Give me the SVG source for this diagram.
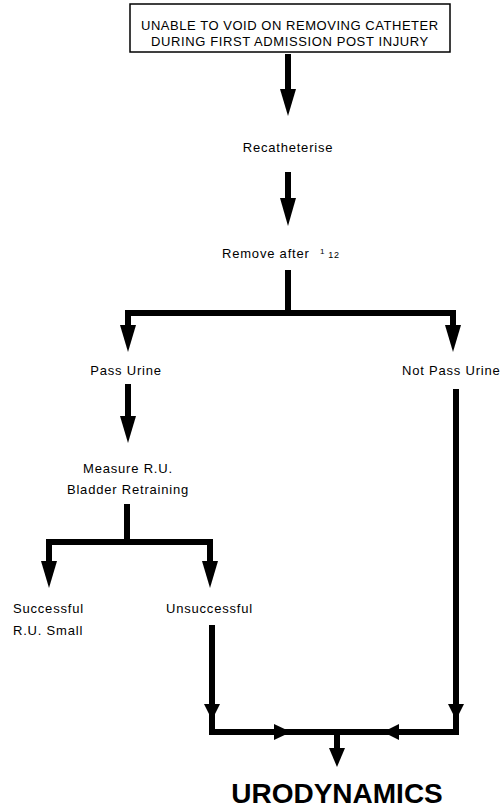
<svg xmlns="http://www.w3.org/2000/svg" width="504" height="809" viewBox="0 0 504 809">
<style>
.t{font-family:"Liberation Sans",Arial,sans-serif;font-size:13px;fill:#000;letter-spacing:0.8px}
.c{text-anchor:middle}
.ln{stroke:#000;stroke-width:6;fill:none;stroke-linecap:square}
.hd{fill:#000}
.big{font-family:"Liberation Sans",Arial,sans-serif;font-size:28px;font-weight:bold;fill:#000;text-anchor:middle}
</style>
<rect width="504" height="809" fill="#fff"/>
<g id="start">
<rect x="130" y="4" width="320" height="48" fill="none" stroke="#000" stroke-width="1.5"/>
<text class="t" x="141" y="30" textLength="298" lengthAdjust="spacing">UNABLE TO VOID ON REMOVING CATHETER</text>
<text class="t" x="151" y="46" textLength="278" lengthAdjust="spacing">DURING FIRST ADMISSION POST INJURY</text>
</g>
<g id="recath"><text class="t c" x="288" y="152">Recatheterise</text></g>
<g id="remove"><text class="t" x="222" y="258">Remove after <tspan font-size="8" dy="-4" dx="6">1</tspan><tspan font-size="9" dy="4" dx="3">12</tspan></text></g>
<g id="pass"><text class="t c" x="126" y="375">Pass Urine</text></g>
<g id="notpass"><text class="t" x="402" y="375">Not Pass Urine</text></g>
<g id="measure"><text class="t c" x="128" y="473">Measure R.U.</text><text class="t c" x="128" y="494">Bladder Retraining</text></g>
<g id="success"><text class="t" x="13" y="613">Successful</text><text class="t" x="13" y="635">R.U. Small</text></g>
<g id="unsuccess"><text class="t" x="166" y="613">Unsuccessful</text></g>
<g id="uro"><text class="big" x="337" y="803">URODYNAMICS</text></g>
<g id="connectors">
<path class="ln" d="M288 57V92"/><polygon class="hd" points="280,89 296,89 288,116"/>
<path class="ln" d="M288 175V200"/><polygon class="hd" points="280,198 296,198 288,226"/>
<path class="ln" d="M288 273V313M128 313H453M128 313V328M453 313V328"/>
<polygon class="hd" points="120,325 136,325 128,352"/>
<polygon class="hd" points="445,325 461,325 453,352"/>
<path class="ln" d="M128 387V420"/><polygon class="hd" points="120,416 136,416 128,443"/>
<path class="ln" d="M127 507V542M49 542H210M49 542V565M210 542V565"/>
<polygon class="hd" points="41,561 57,561 49,588"/>
<polygon class="hd" points="202,561 218,561 210,588"/>
<path class="ln" d="M212 628V732H456V392"/>
<polygon class="hd" points="204,704 220,704 212,720"/>
<polygon class="hd" points="448,704 464,704 456,720"/>
<polygon class="hd" points="274,724 274,740 291,732"/>
<polygon class="hd" points="399,724 399,740 383,732"/>
<path class="ln" d="M337 732V752"/><polygon class="hd" points="329,748 345,748 337,767"/>
</g>
</svg>
